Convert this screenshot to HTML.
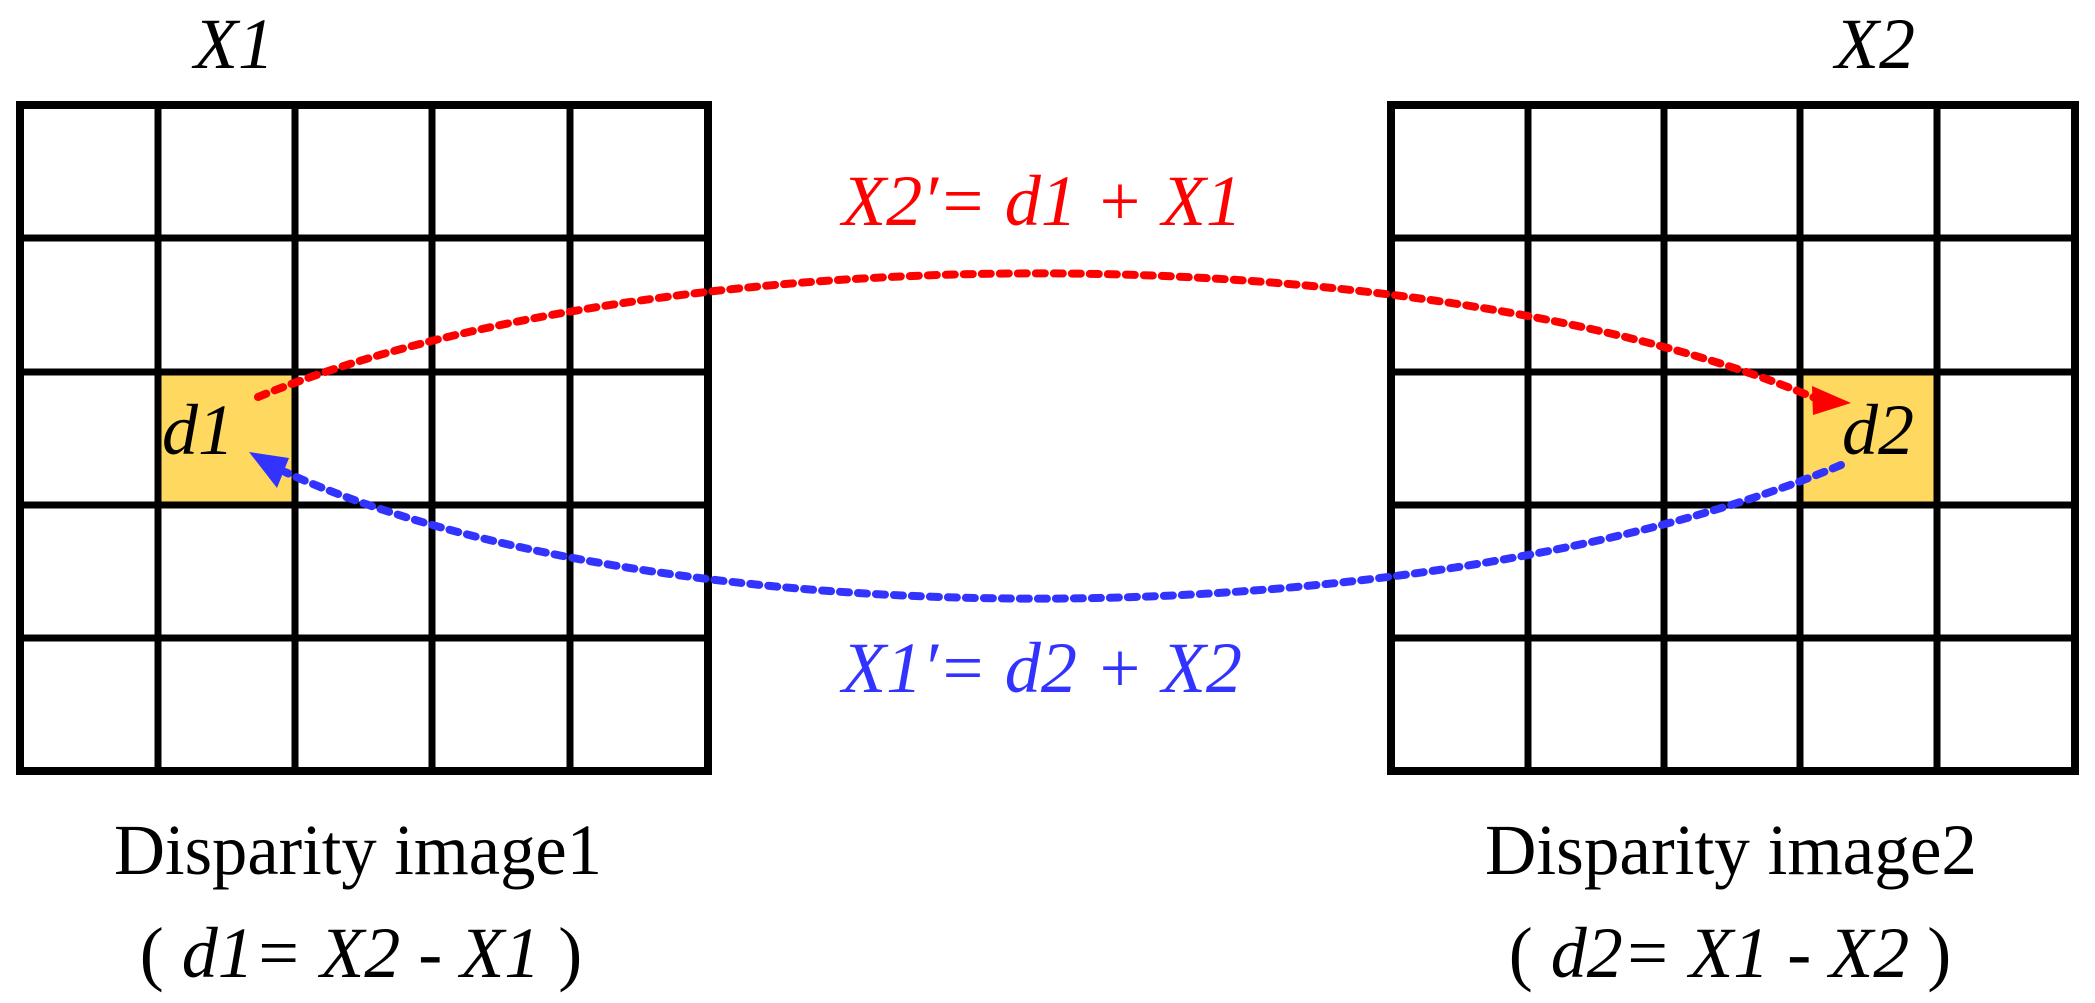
<!DOCTYPE html>
<html><head><meta charset="utf-8"><style>
html,body{margin:0;padding:0;background:#fff;}
svg{display:block;}
text{font-family:"Liberation Serif",serif;}
</style></head><body>
<svg width="2095" height="1003" viewBox="0 0 2095 1003" xmlns="http://www.w3.org/2000/svg">
<rect x="158" y="372" width="137" height="133" fill="#FFD95F"/>
<rect x="1800" y="372" width="137" height="133" fill="#FFD95F"/>
<g stroke="#000" stroke-width="7" fill="none">
<rect x="20" y="105" width="688" height="666" stroke-width="8"/>
<line x1="158" y1="105" x2="158" y2="771"/><line x1="295" y1="105" x2="295" y2="771"/>
<line x1="432" y1="105" x2="432" y2="771"/><line x1="570" y1="105" x2="570" y2="771"/>
<line x1="20" y1="238" x2="708" y2="238"/><line x1="20" y1="372" x2="708" y2="372"/>
<line x1="20" y1="505" x2="708" y2="505"/><line x1="20" y1="638" x2="708" y2="638"/>
<rect x="1391" y="105" width="684" height="666" stroke-width="8"/>
<line x1="1528" y1="105" x2="1528" y2="771"/><line x1="1664" y1="105" x2="1664" y2="771"/>
<line x1="1800" y1="105" x2="1800" y2="771"/><line x1="1937" y1="105" x2="1937" y2="771"/>
<line x1="1391" y1="238" x2="2075" y2="238"/><line x1="1391" y1="372" x2="2075" y2="372"/>
<line x1="1391" y1="505" x2="2075" y2="505"/><line x1="1391" y1="638" x2="2075" y2="638"/>
</g>
<path d="M258,397 C660,232 1420,232 1815,398" stroke="#f00" stroke-width="8" fill="none" stroke-dasharray="9 9" stroke-linecap="round"/>
<polygon points="1851,403 1812,386 1813,415" fill="#f00"/>
<path d="M1841,465 C1420,642 660,642 285,472" stroke="#33f" stroke-width="8" fill="none" stroke-dasharray="9 9" stroke-linecap="round"/>
<polygon points="249,452 289,458 277,488" fill="#33f"/>
<g font-style="italic" font-size="72">
<text x="234" y="68" text-anchor="middle">X1</text>
<text x="1875" y="68" text-anchor="middle">X2</text>
<text x="198" y="454" text-anchor="middle">d1</text>
<text x="1878" y="454" text-anchor="middle">d2</text>
<text x="842" y="225" textLength="400" lengthAdjust="spacingAndGlyphs" fill="#f00">X2′= d1 + X1</text>
<text x="842" y="692" textLength="400" lengthAdjust="spacingAndGlyphs" fill="#33f">X1′= d2 + X2</text>
</g>
<g font-size="72">
<text x="114" y="874" textLength="488" lengthAdjust="spacingAndGlyphs">Disparity image1</text>
<text x="1485" y="874" textLength="492" lengthAdjust="spacingAndGlyphs">Disparity image2</text>
<text x="361" y="977" text-anchor="middle">( <tspan font-style="italic">d1= X2 </tspan>- <tspan font-style="italic">X1</tspan> )</text>
<text x="1730" y="977" text-anchor="middle">( <tspan font-style="italic">d2= X1 </tspan>- <tspan font-style="italic">X2</tspan> )</text>
</g>
</svg>
</body></html>
